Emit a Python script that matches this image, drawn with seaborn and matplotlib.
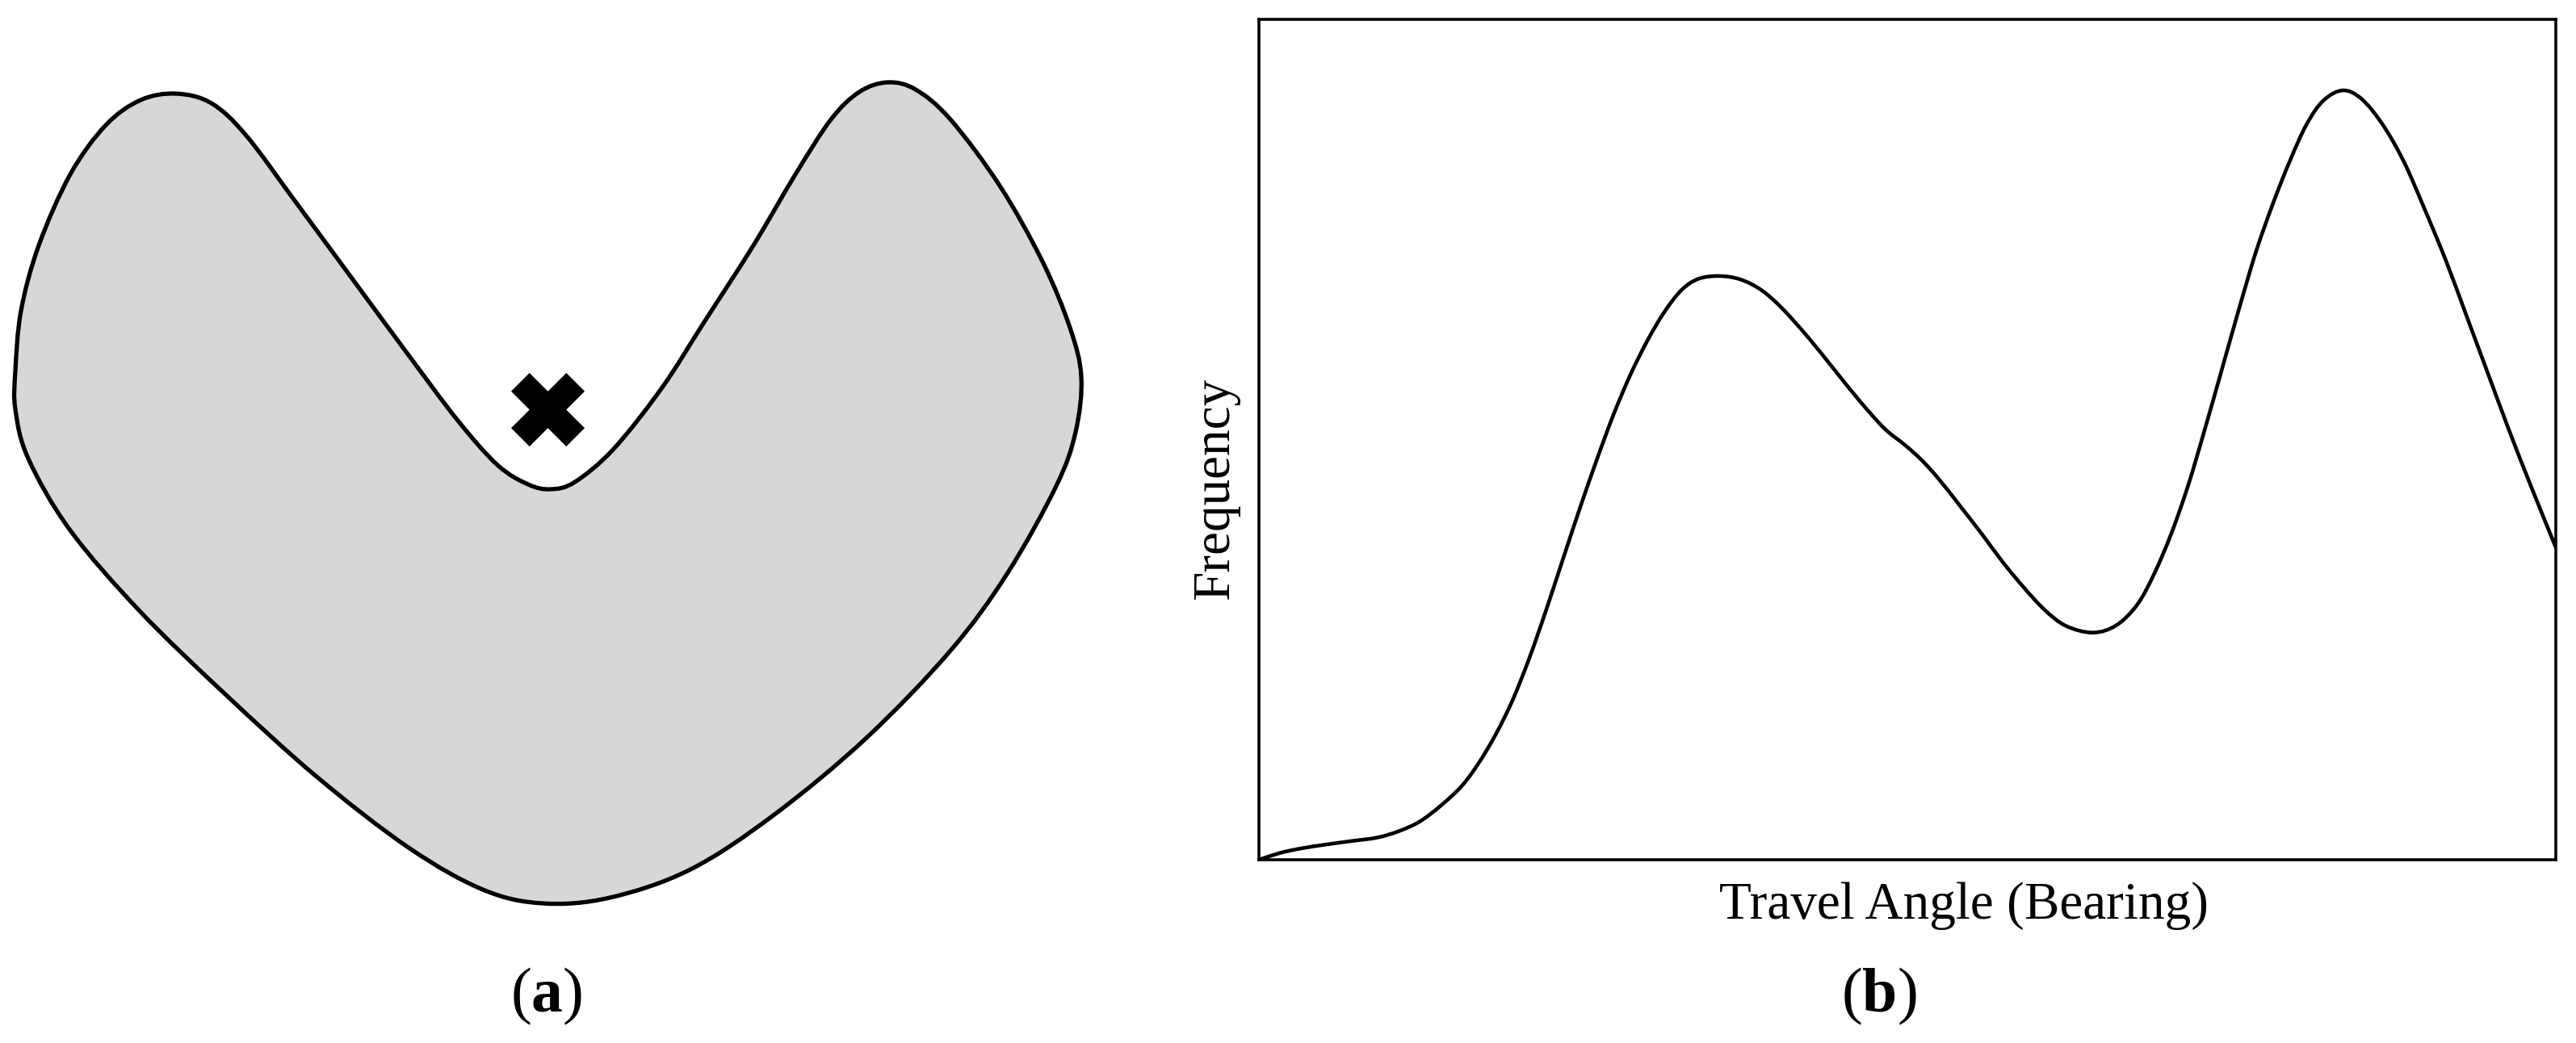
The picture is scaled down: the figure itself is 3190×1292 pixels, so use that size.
import numpy as np
import matplotlib
matplotlib.use("Agg")
import matplotlib.pyplot as plt
from matplotlib.path import Path
from matplotlib.patches import PathPatch
import seaborn as sns

# ---------------- data ----------------
# (a) outline of the region (pixel-like coordinates of the drawing area)
outline_x = [19, 26, 48, 87, 131, 174, 218, 262, 305, 366, 436, 506, 567, 616, 654, 682,
             712, 760, 820, 872, 933, 985, 1029, 1064, 1099, 1134, 1177, 1238, 1291, 1325,
             1339, 1332, 1308, 1247, 1177, 1073, 959, 855, 755, 672, 598, 506, 392, 279,
             174, 87, 35, 19]
outline_y = [460, 385, 304, 216, 155, 124, 116, 128, 168, 250, 345, 440, 521, 576, 600, 606,
             597, 556, 480, 399, 304, 216, 148, 114, 102, 111, 148, 230, 324, 406,
             467, 535, 602, 711, 806, 914, 1009, 1077, 1112, 1119, 1102, 1050, 962, 860,
             758, 657, 568, 507]
cross_x = [678]
cross_y = [507]

# (b) frequency curve over travel angle (normalised units)
bearing = [0.000, 0.0163, 0.0326, 0.0521, 0.0717, 0.0912, 0.1075, 0.1238, 0.1401, 0.1564,
           0.1694, 0.1824, 0.1954, 0.2085, 0.2215, 0.2345, 0.2476, 0.2606, 0.2736, 0.2866,
           0.2997, 0.3127, 0.3257, 0.3388, 0.3550, 0.3713, 0.3876, 0.4039, 0.4235, 0.4430,
           0.4625, 0.4821, 0.4984, 0.5114, 0.5244, 0.5407, 0.5570, 0.5733, 0.5896, 0.6059,
           0.6221, 0.6430, 0.6612, 0.6775, 0.6906, 0.7036, 0.7166, 0.7296, 0.7427, 0.7557,
           0.7687, 0.7818, 0.7948, 0.8078, 0.8208, 0.8358, 0.8502, 0.8664, 0.8827, 0.8990,
           0.9153, 0.9316, 0.9479, 0.9642, 0.9805, 1.000]
frequency = [0.000, 0.0081, 0.0135, 0.0182, 0.0223, 0.0264, 0.0338, 0.0453, 0.0642, 0.0878,
             0.1149, 0.1486, 0.1892, 0.2399, 0.2973, 0.3581, 0.4189, 0.4764, 0.5304, 0.5777,
             0.6182, 0.6520, 0.6777, 0.6912, 0.6946, 0.6905, 0.6777, 0.6554, 0.6216, 0.5845,
             0.5473, 0.5135, 0.4932, 0.4750, 0.4527, 0.4209, 0.3885, 0.3547, 0.3243, 0.2973,
             0.2784, 0.2703, 0.2791, 0.3041, 0.3412, 0.3885, 0.4459, 0.5135, 0.5845, 0.6554,
             0.7230, 0.7804, 0.8311, 0.8750, 0.9034, 0.9155, 0.9054, 0.8750, 0.8311, 0.7736,
             0.7128, 0.6453, 0.5777, 0.5101, 0.4459, 0.3716]

xlabel_text = "Travel Angle (Bearing)"
ylabel_text = "Frequency"

# ---------------- style ----------------
sns.set_theme(style="white")
plt.rcParams["font.family"] = ["Liberation Serif", "DejaVu Serif"]
plt.rcParams["text.color"] = "black"
plt.rcParams["axes.labelcolor"] = "black"
plt.rcParams["mathtext.fontset"] = "custom"
plt.rcParams["mathtext.rm"] = "Liberation Serif"
plt.rcParams["mathtext.bf"] = "Liberation Serif:bold"


def smooth_path(px, py, closed):
    """Catmull-Rom control points turned into matplotlib cubic Bezier codes."""
    pts = np.column_stack([px, py]).astype(float)
    n = len(pts)
    verts = [pts[0]]
    codes = [Path.MOVETO]
    segs = n if closed else n - 1
    for i in range(segs):
        p1, p2 = pts[i], pts[(i + 1) % n]
        if closed:
            p0, p3 = pts[i - 1], pts[(i + 2) % n]
        else:
            p0 = pts[i - 1] if i > 0 else p1
            p3 = pts[i + 2] if i + 2 < n else p2
        verts += [p1 + (p2 - p0) / 6.0, p2 - (p3 - p1) / 6.0, p2]
        codes += [Path.CURVE4] * 3
    if closed:
        verts.append(pts[0])
        codes.append(Path.CLOSEPOLY)
    return Path(verts, codes)


W, H = 3190, 1292
fig = plt.figure(figsize=(W / 100, H / 100), dpi=100)
fig.patch.set_facecolor("white")

# ---------------- panel (a) ----------------
axA = fig.add_axes([0, 0, 1360 / W, 1])
axA.axis("off")
axA.add_patch(PathPatch(smooth_path(outline_x, outline_y, True), facecolor="#d7d7d7",
                        edgecolor="black", lw=3.8, joinstyle="round"))
sns.scatterplot(x=cross_x, y=cross_y, marker="X", s=4300, color="black",
                linewidth=0, ax=axA, zorder=5)
axA.set_xlim(0, 1360)
axA.set_ylim(H, 0)

# ---------------- panel (b) ----------------
L, R, T, B = 1559, 3165, 24, 1065
axB = fig.add_axes([L / W, (H - B) / H, (R - L) / W, (B - T) / H])
axB.add_patch(PathPatch(smooth_path(bearing, frequency, False), fill=False,
                        edgecolor="black", lw=3.3, capstyle="round",
                        joinstyle="round", clip_on=True))
axB.set_xlim(0, 1)
axB.set_ylim(0, 1)
axB.set_xticks([])
axB.set_yticks([])
for sp in axB.spines.values():
    sp.set_visible(True)
    sp.set_color("black")
    sp.set_linewidth(2.6)
    sp.set_zorder(6)

axB.set_xlabel(xlabel_text, fontsize=47, color="black")
axB.xaxis.label.set_va("baseline")
axB.xaxis.set_label_coords((2432 - L) / (R - L), (B - 1138) / (B - T))

axB.set_ylabel(ylabel_text, fontsize=47, rotation=90, color="black",
               rotation_mode="anchor", ha="center", va="baseline")
axB.yaxis.set_label_coords((1521 - L) / (R - L), (B - 605) / (B - T))

# ---------------- sub-panel captions ----------------
fig.text(677 / W, (H - 1253) / H, r"($\mathbf{a}$)", fontsize=56,
         ha="center", va="baseline", color="black")
fig.text(2327 / W, (H - 1253) / H, r"($\mathbf{b}$)", fontsize=56,
         ha="center", va="baseline", color="black")

fig.savefig("out.png", dpi=100, facecolor="white")
